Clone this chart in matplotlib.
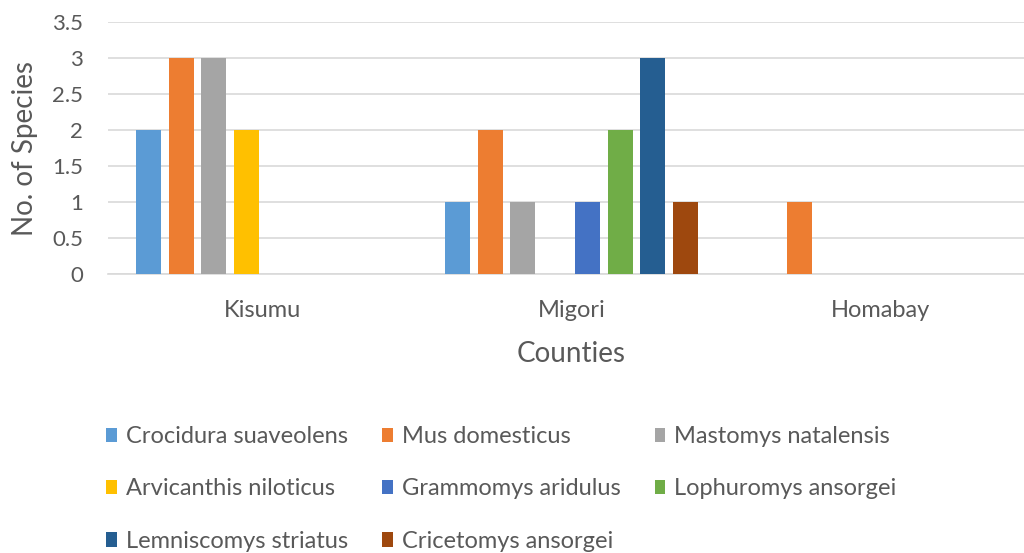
import matplotlib
matplotlib.use("Agg")
import matplotlib.pyplot as plt
import numpy as np

plt.rcParams['font.family'] = ['Lato', 'DejaVu Sans']

counties = ["Kisumu", "Migori", "Homabay"]
species = ["Crocidura suaveolens", "Mus domesticus", "Mastomys natalensis",
           "Arvicanthis niloticus", "Grammomys aridulus", "Lophuromys ansorgei",
           "Lemniscomys striatus", "Cricetomys ansorgei"]
crocidura = [2, 1, 0]
mus = [3, 2, 1]
mastomys = [3, 1, 0]
arvicanthis = [2, 0, 0]
grammomys = [0, 1, 0]
lophuromys = [0, 2, 0]
lemniscomys = [0, 3, 0]
cricetomys = [0, 1, 0]
series = [crocidura, mus, mastomys, arvicanthis, grammomys, lophuromys, lemniscomys, cricetomys]
colors = ["#5B9BD5", "#ED7D31", "#A5A5A5", "#FFC000", "#4472C4", "#70AD47", "#255E91", "#9E480E"]
yticks = [0, 0.5, 1, 1.5, 2, 2.5, 3, 3.5]
ytick_labels = ["0", "0.5", "1", "1.5", "2", "2.5", "3", "3.5"]

txt = "#595959"
fig = plt.figure(figsize=(10.24, 5.53), dpi=100)
ax = fig.add_axes([108/1024, 1-274/553, 927/1024, 252/553])

x = np.arange(len(counties))
slot = 32.5/309
bw = 25/309
handles = []
for i, (vals, c) in enumerate(zip(series, colors)):
    h = ax.bar(x + (i-3.5)*slot, vals, width=bw, color=c, label=species[i], zorder=3)
    handles.append(h)

ax.set_xlim(-0.5, 2.5)
ax.set_ylim(0, 3.5)
ax.set_yticks(yticks)
ax.set_yticklabels(ytick_labels)
ax.set_xticks(x)
ax.set_xticklabels(counties)
ax.grid(axis='y', color='#D9D9D9', linewidth=1.2, zorder=0)
for s in ['top', 'right', 'left']:
    ax.spines[s].set_visible(False)
ax.spines['bottom'].set_color('#D9D9D9')
ax.spines['bottom'].set_linewidth(1.2)
ax.tick_params(axis='both', length=0, colors=txt)
ax.tick_params(axis='y', pad=18, labelsize=16)
ax.tick_params(axis='x', pad=19, labelsize=17)
ax.set_xlabel("Counties", fontsize=20, color=txt, va='center')
ax.xaxis.set_label_coords(0.5, -80/252)
ax.set_ylabel("No. of Species", fontsize=20, color=txt, va='center')
ax.yaxis.set_label_coords(-83/927, 0.5)

order = [0, 3, 6, 1, 4, 7, 2, 5]
leg = fig.legend([handles[i] for i in order], [species[i] for i in order],
                 ncol=3, loc='upper left', bbox_to_anchor=(106/1024, 1-426/553),
                 frameon=False, fontsize=17, labelcolor=txt,
                 handlelength=0.45, handleheight=0.55, handletextpad=0.38,
                 labelspacing=1.33, columnspacing=1.45, borderpad=0, borderaxespad=0)

fig.savefig("out.png", dpi=100)
